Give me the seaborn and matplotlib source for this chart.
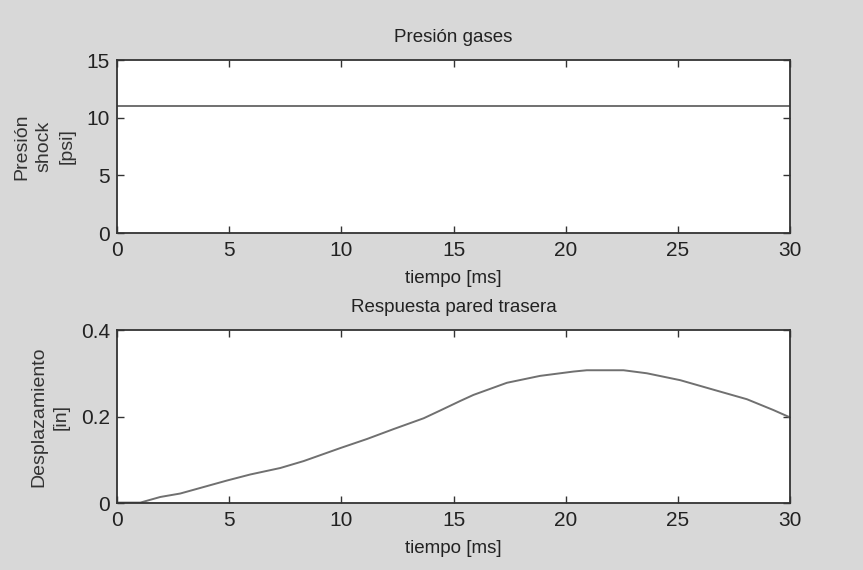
import numpy as np
import pandas as pd
import matplotlib
matplotlib.use("Agg")
import matplotlib.pyplot as plt
import seaborn as sns

# ---- data ----
t_pres = [0, 30]
presion = [11.0, 11.0]

t_resp = [0.0, 1.04, 1.93, 2.82, 3.86, 4.90, 5.94, 7.28, 8.32, 9.95, 11.14,
          12.33, 13.67, 14.41, 15.30, 15.89, 17.38, 18.86, 20.35, 20.94,
          22.58, 23.62, 25.11, 26.59, 28.08, 29.26, 30.0]
desplaz = [0.001, 0.001, 0.014, 0.022, 0.037, 0.052, 0.066, 0.081, 0.097,
           0.127, 0.148, 0.171, 0.196, 0.214, 0.236, 0.250, 0.278, 0.294,
           0.304, 0.307, 0.307, 0.300, 0.284, 0.262, 0.240, 0.215, 0.198]

x_ticks = [0, 5, 10, 15, 20, 25, 30]
y_ticks_top = [0, 5, 10, 15]
y_ticks_bot = [0, 0.2, 0.4]
y_ticklabels_bot = ["0", "0.2", "0.4"]

sns.set_theme(style="ticks")
plt.rcParams["font.family"] = ["Liberation Sans", "DejaVu Sans"]

bg = "#d8d8d8"
line_col = "#707070"
txt = "#222222"
fig = plt.figure(figsize=(8.63, 5.70), dpi=100, facecolor=bg)

ax1 = fig.add_axes([0.1356, 0.5912, 0.7798, 0.3035])
ax2 = fig.add_axes([0.1356, 0.1175, 0.7798, 0.3035])

df1 = pd.DataFrame({"t": t_pres, "p": presion})
df2 = pd.DataFrame({"t": t_resp, "d": desplaz})
sns.lineplot(data=df1, x="t", y="p", ax=ax1, color=line_col, lw=1.4)
sns.lineplot(data=df2, x="t", y="d", ax=ax2, color=line_col, lw=1.4)

def style(ax, yt, ytl, title, ylabel):
    ax.set_facecolor("white")
    ax.set_xlim(0, 30)
    ax.set_ylim(yt[0], yt[-1])
    ax.set_xticks(x_ticks)
    ax.set_yticks(yt)
    ax.set_xticklabels([str(v) for v in x_ticks], fontsize=15, color=txt)
    ax.set_yticklabels(ytl, fontsize=15, color=txt)
    ax.tick_params(axis="x", direction="in", length=5, width=1, color="#333333",
                   pad=6, top=True)
    ax.tick_params(axis="y", direction="in", length=5, width=1, color="#333333",
                   pad=5, right=True)
    for s in ax.spines.values():
        s.set_visible(True)
        s.set_color("#333333")
        s.set_linewidth(1.3)
    ax.set_title(title, fontsize=13.5, color=txt, pad=13)
    ax.set_xlabel("tiempo [ms]", fontsize=13.5, color=txt, labelpad=7)
    ax.set_ylabel(ylabel, fontsize=14, color="#333333", labelpad=8,
                  linespacing=1.45)

style(ax1, y_ticks_top, [str(v) for v in y_ticks_top], "Presión gases",
      "Presión\nshock\n[psi]")
style(ax2, y_ticks_bot, y_ticklabels_bot, "Respuesta pared trasera",
      "Desplazamiento\n[in]")

fig.savefig("out.png", dpi=100, facecolor=bg)
